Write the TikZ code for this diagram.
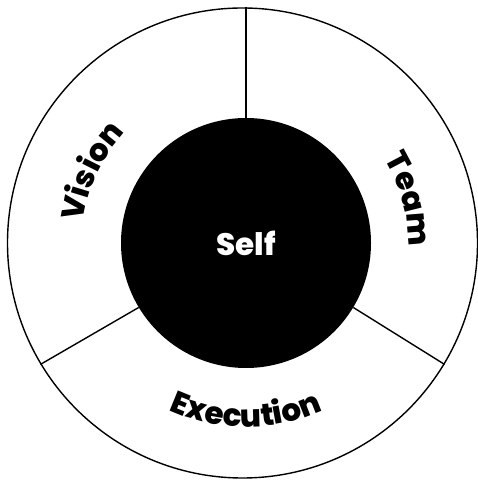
\documentclass[tikz,border=0pt]{standalone}
\usepackage{fontspec}
\newfontfamily\labfont{Poppins ExtraBold}
\usetikzlibrary{decorations.text,calc}
\newcommand{\labsize}{\labfont\fontsize{31}{31}\selectfont}
\begin{document}
\begin{tikzpicture}[x=1pt,y=1pt,
  ring/.style={circle, draw=black, line width=1.4pt, inner sep=0pt},
  core/.style={circle, fill=black, inner sep=0pt, text=white, font=\labsize},
  divider/.style={draw=black, line width=1.4pt},
  arclabel/.style={decorate, decoration={text along path, text align=center, text={|\labsize|#1}}}]
\useasboundingbox (0,0) rectangle (477,481);
\coordinate (oc) at (242.5,238);
\coordinate (ic) at (246,238);
\node[ring, minimum size=470pt] (outer) at (oc) {};
\node[core, minimum size=250pt] (self) at (ic) {Self};
\draw[divider] (self.north) -- (self.north |- outer.north);
\draw[divider] (self.-31) -- (outer.-31);
\draw[divider] (self.211) -- (outer.211);
\path[arclabel=Vision] ($(ic)+(190:164)$) arc[start angle=190, end angle=120, radius=164];
\path[arclabel=Team] ($(ic)+(50:162)$) arc[start angle=50, end angle=-20, radius=162];
\path[arclabel=Execution] ($(ic)+(235:184)$) arc[start angle=235, end angle=305, radius=184];
\end{tikzpicture}
\end{document}
